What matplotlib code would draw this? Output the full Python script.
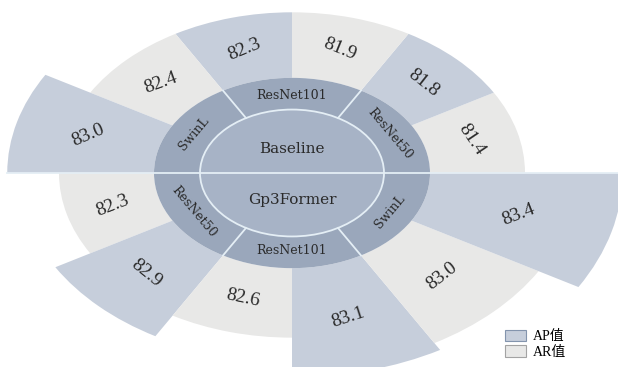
import numpy as np
import matplotlib.pyplot as plt
from matplotlib.patches import Wedge, Circle, Patch
from matplotlib.transforms import Affine2D

plt.rcParams['font.family'] = ['DejaVu Serif']

# two methods, three backbones each, AP / AR scores per backbone
groups = ['Baseline', 'Gp3Former']
backbones = ['ResNet50', 'ResNet101', 'SwinL']
ap_values = [[81.8, 82.3, 83.0], [82.9, 83.1, 83.4]]
ar_values = [[81.4, 81.9, 82.4], [82.3, 82.6, 83.0]]
legend_labels = ['AP值', 'AR值']

# tilt of each value label, counter-clockwise from the 3 o'clock position
value_rotations = [-56, -38, -22, 22, 20, 23, 21, -39, -12, 18, 38, 21]

ap_color = '#c6cedb'
ar_color = '#e8e8e7'
ring_color = '#9aa7bb'
core_color = '#a7b3c6'
line_color = '#e4eef5'
text_color = '#2a2a2a'

cx, cy = 292, 194
squash = 1.45
r_core = 92
r_ring = 138
r_base = 233


def outer_radius(v):
    return r_base + 115 * max(0.0, v - 82.55)


def to_xy(r, deg):
    t = np.radians(deg)
    return cx + r * np.cos(t), cy + r * np.sin(t) / squash


def tangent_rotation(deg):
    t = np.radians(deg)
    a = np.degrees(np.arctan2(np.cos(t) / squash, -np.sin(t)))
    while a > 90:
        a -= 180
    while a <= -90:
        a += 180
    return a


fig = plt.figure(figsize=(6.18, 3.67), dpi=100)
ax = fig.add_axes([0, 0, 1, 1])
ax.set_xlim(0, 618)
ax.set_ylim(0, 367)
ax.axis('off')

# circle coordinates squashed into an ellipse
ellipse = Affine2D().scale(1, 1 / squash).translate(cx, cy) + ax.transData

k = 0
for g, name in enumerate(groups):
    for j, bb in enumerate(backbones):
        start = 180 * g + 60 * j
        pairs = [(ar_values[g][j], ar_color), (ap_values[g][j], ap_color)]
        for h, (v, col) in enumerate(pairs):
            t1 = start + 30 * h
            r_out = outer_radius(v)
            ax.add_patch(Wedge((0, 0), r_out, t1, t1 + 30, width=r_out - r_ring,
                               transform=ellipse, facecolor=col, edgecolor='none'))
            x, y = to_xy((r_ring + r_out) / 2, t1 + 15)
            ax.text(x, y, f'{v:.1f}', ha='center', va='center',
                    rotation=value_rotations[k], rotation_mode='anchor',
                    fontsize=14, family='Liberation Serif', color=text_color)
            k += 1

        # backbone ring
        ax.add_patch(Wedge((0, 0), r_ring, start, start + 60, width=r_ring - r_core,
                           transform=ellipse, facecolor=ring_color, edgecolor='none'))
        x, y = to_xy(113, start + 30)
        ax.text(x, y, bb, ha='center', va='center',
                rotation=tangent_rotation(start + 30), rotation_mode='anchor',
                fontsize=9, color=text_color)

# centre
ax.add_patch(Circle((0, 0), r_core, transform=ellipse, facecolor=core_color,
                    edgecolor=line_color, linewidth=1.3))
ax.text(cx, cy + 24, groups[0], ha='center', va='center', fontsize=11, color=text_color)
ax.text(cx, cy - 27, groups[1], ha='center', va='center', fontsize=11, color=text_color)

# dividers between backbones
for deg in [60, 120, 240, 300]:
    x1, y1 = to_xy(r_core, deg)
    x2, y2 = to_xy(r_ring, deg)
    ax.plot([x1, x2], [y1, y2], color=line_color, linewidth=1.3)

left = max(outer_radius(ap_values[0][2]), outer_radius(ar_values[1][0]))
right = max(outer_radius(ar_values[0][0]), outer_radius(ap_values[1][2]))
ax.plot([cx - left, cx + right], [cy, cy], color=line_color, linewidth=1.3)

handles = [Patch(facecolor=ap_color, edgecolor='#8394ad', linewidth=0.8),
           Patch(facecolor=ar_color, edgecolor='#a3a3a3', linewidth=0.8)]
ax.legend(handles, legend_labels, loc='upper left', bbox_to_anchor=(505 / 618, 37 / 367),
          frameon=False, borderpad=0, borderaxespad=0, handlelength=1.5,
          handleheight=0.85, handletextpad=0.5, labelspacing=0.15,
          prop={'family': ['Liberation Serif', 'Noto Sans CJK SC'], 'size': 10})

fig.savefig('out.png', dpi=100)
